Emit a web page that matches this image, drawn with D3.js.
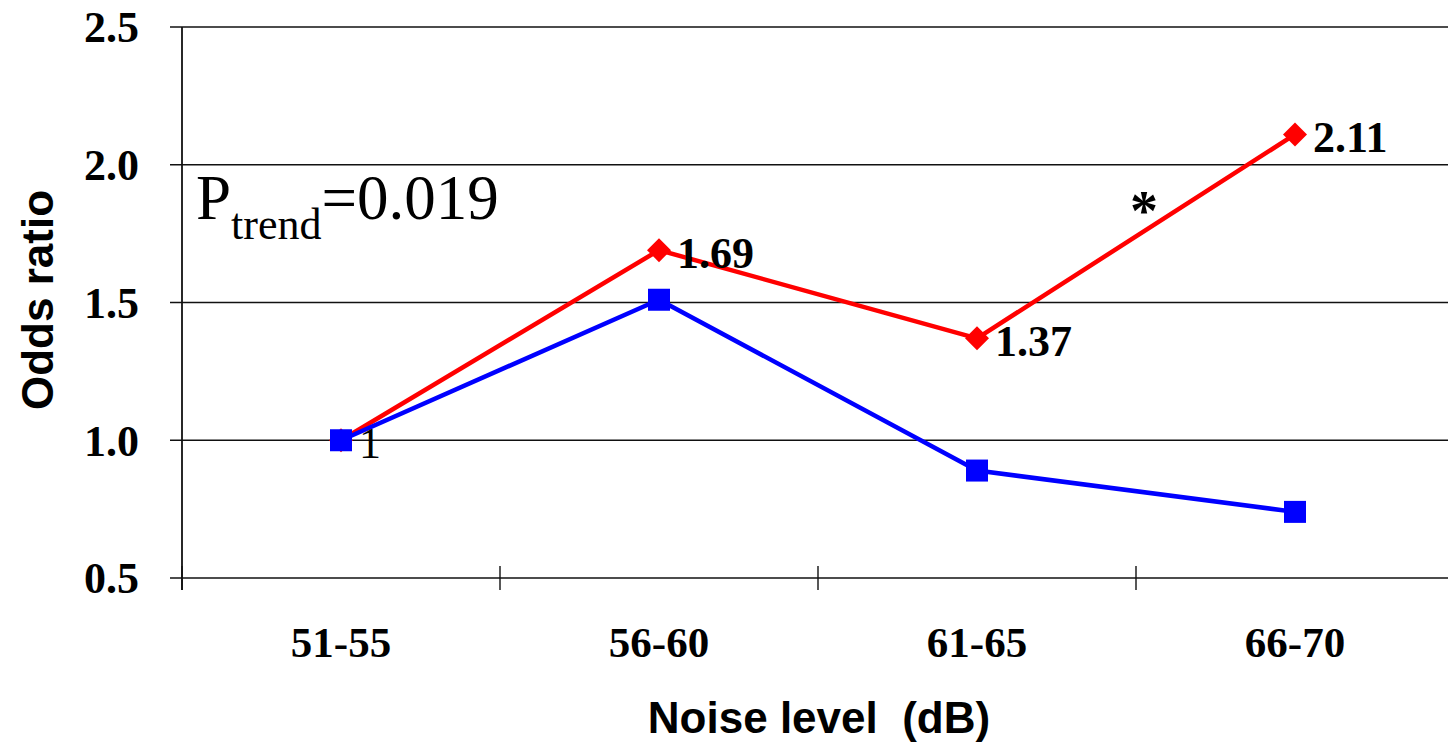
<!DOCTYPE html>
<html>
<head>
<meta charset="utf-8">
<script src="https://cdn.jsdelivr.net/npm/d3@7"></script>
<style>
  html, body { margin: 0; padding: 0; background: #fff; }
  svg { display: block; }
  text { white-space: pre; }
</style>
</head>
<body>
<svg id="chart" width="1448" height="745"></svg>
<script>
// Noise exposure categories and odds ratios
const categories = ["51-55", "56-60", "61-65", "66-70"];
const redValues = [1, 1.69, 1.37, 2.11];
const blueValues = [1, 1.51, 0.89, 0.74];
const redLabels = ["1", "1.69", "1.37", "2.11"];
const yTicks = [0.5, 1.0, 1.5, 2.0, 2.5];

const svg = d3.select("#chart");
const margin = { left: 182, top: 27 };
const plotW = 1272, plotH = 551;
const serif = "'Liberation Serif', 'Times New Roman', serif";
const sans = "'Liberation Sans', Arial, sans-serif";

const x = d3.scaleBand().domain(categories).range([margin.left, margin.left + plotW]);
const y = d3.scaleLinear().domain([0.5, 2.5]).range([margin.top + plotH, margin.top]);

// Horizontal gridlines with short ticks left of the axis
svg.append("g").selectAll("line").data(yTicks).join("line")
  .attr("x1", margin.left - 12).attr("x2", 1448)
  .attr("y1", d => y(d)).attr("y2", d => y(d))
  .attr("stroke", "#111").attr("stroke-width", 1.6);

// Y tick labels
svg.append("g").selectAll("text").data(yTicks).join("text")
  .attr("x", 139).attr("y", d => y(d))
  .attr("dy", "0.35em")
  .attr("text-anchor", "end")
  .attr("font-family", serif).attr("font-weight", "bold").attr("font-size", 44)
  .text(d => d.toFixed(1));

// Vertical axis line
svg.append("line")
  .attr("x1", margin.left).attr("x2", margin.left)
  .attr("y1", margin.top).attr("y2", y(0.5) + 12)
  .attr("stroke", "#111").attr("stroke-width", 1.8);

// Category boundary ticks
const bounds = categories.map(c => x(c));
svg.append("g").selectAll("line").data(bounds).join("line")
  .attr("x1", d => d).attr("x2", d => d)
  .attr("y1", y(0.5) - 12).attr("y2", y(0.5) + 12)
  .attr("stroke", "#111").attr("stroke-width", 1.4);

// Category labels
svg.append("g").selectAll("text").data(categories).join("text")
  .attr("x", d => x(d) + x.bandwidth() / 2)
  .attr("y", 657)
  .attr("text-anchor", "middle")
  .attr("font-family", serif).attr("font-weight", "bold").attr("font-size", 43)
  .text(d => d);

// Axis titles
svg.append("text")
  .attr("x", 819).attr("y", 733)
  .attr("text-anchor", "middle")
  .attr("font-family", sans).attr("font-weight", "bold").attr("font-size", 44)
  .text("Noise level  (dB)");

svg.append("text")
  .attr("transform", "translate(53,300) rotate(-90)")
  .attr("text-anchor", "middle")
  .attr("font-family", sans).attr("font-weight", "bold").attr("font-size", 44)
  .text("Odds ratio");

const cx = d => x(d) + x.bandwidth() / 2;
const line = d3.line().x(d => cx(d.c)).y(d => y(d.v));
const redData = categories.map((c, i) => ({ c, v: redValues[i], label: redLabels[i] }));
const blueData = categories.map((c, i) => ({ c, v: blueValues[i] }));

// Red series with diamond markers
svg.append("path").datum(redData)
  .attr("d", line).attr("fill", "none")
  .attr("stroke", "#ff0000").attr("stroke-width", 4.5).attr("stroke-linejoin", "round");
svg.append("g").selectAll("path").data(redData).join("path")
  .attr("d", "M0,-12 L12,0 L0,12 L-12,0 Z")
  .attr("transform", d => `translate(${cx(d.c)},${y(d.v)})`)
  .attr("fill", "#ff0000");

// Blue series with square markers
svg.append("path").datum(blueData)
  .attr("d", line).attr("fill", "none")
  .attr("stroke", "#0000ff").attr("stroke-width", 4.5).attr("stroke-linejoin", "round");
svg.append("g").selectAll("rect").data(blueData).join("rect")
  .attr("x", d => cx(d.c) - 11).attr("y", d => y(d.v) - 11)
  .attr("width", 22).attr("height", 22)
  .attr("fill", "#0000ff");

// Value labels on the red series
svg.append("g").selectAll("text").data(redData).join("text")
  .attr("x", d => cx(d.c) + 18).attr("y", d => y(d.v) + 18)
  .attr("font-family", serif)
  .attr("font-weight", (d, i) => i === 0 ? "normal" : "bold")
  .attr("font-size", 44)
  .text(d => d.label);

// Significance marker on the last segment
const mx = (cx(categories[2]) + cx(categories[3])) / 2;
const my = (y(redValues[2]) + y(redValues[3])) / 2;
svg.append("text")
  .attr("x", mx + 8).attr("y", my - 6)
  .attr("text-anchor", "middle")
  .attr("font-family", serif).attr("font-weight", "bold").attr("font-size", 56)
  .text("*");

// Trend p-value annotation
const pt = svg.append("text")
  .attr("x", 196).attr("y", 219)
  .attr("font-family", serif).attr("font-size", 63);
pt.append("tspan").text("P");
pt.append("tspan").attr("font-size", 44).attr("dy", 20).text("trend");
pt.append("tspan").attr("dy", -20).text("=0.019");
</script>
</body>
</html>
